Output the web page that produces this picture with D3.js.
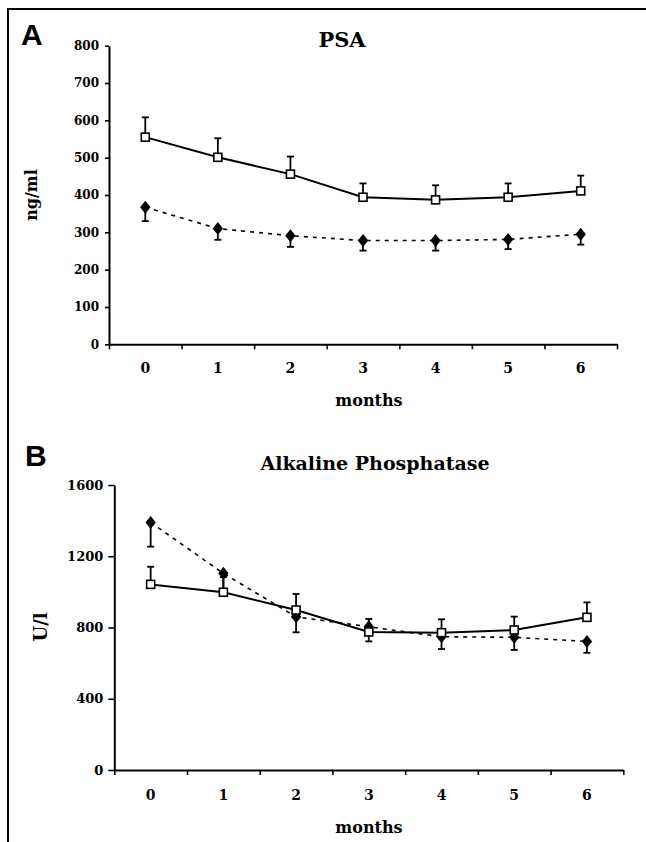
<!DOCTYPE html>
<html>
<head>
<meta charset="utf-8">
<script src="https://cdn.jsdelivr.net/npm/d3@7"></script>
<style>
  html, body { margin: 0; padding: 0; background: #fff; }
  svg { display: block; }
  text { font-family: "DejaVu Serif", serif; font-weight: bold; fill: #000; }
</style>
</head>
<body>
<svg id="chart" width="646" height="842"></svg>
<script>
// ---------- DATA ----------
const months = [0, 1, 2, 3, 4, 5, 6];

// Panel A: PSA (ng/ml)
const psaTicks = [0, 100, 200, 300, 400, 500, 600, 700, 800];
const psaSquare = [555, 501, 456, 394, 387, 394, 411];
const psaSquareErr = [53, 51, 47, 37, 39, 37, 41];
const psaDiamond = [367, 310, 291, 278, 278, 281, 295];
const psaDiamondErr = [37, 30, 30, 27, 27, 26, 28];

// Panel B: Alkaline Phosphatase (U/l)
const alpTicks = [0, 400, 800, 1200, 1600];
const alpSquare = [1042, 998, 898, 775, 771, 786, 857];
const alpSquareErr = [99, 85, 90, 73, 75, 75, 84];
const alpDiamond = [1390, 1104, 860, 804, 748, 745, 722];
const alpDiamondErr = [136, 94, 87, 82, 69, 71, 64];

const svg = d3.select("#chart");

// frame lines (top and left)
svg.append("line").attr("x1", 8).attr("y1", 9).attr("x2", 646).attr("y2", 9)
  .attr("stroke", "#000").attr("stroke-width", 2);
svg.append("line").attr("x1", 8).attr("y1", 8).attr("x2", 8).attr("y2", 842)
  .attr("stroke", "#000").attr("stroke-width", 2);

function panel(cfg) {
  const g = svg.append("g");
  const x = d3.scaleLinear().domain([-0.5, 6.5]).range([cfg.left, cfg.right]);
  const y = d3.scaleLinear().domain([0, cfg.max]).range([cfg.bottom, cfg.top]);

  // panel letter
  g.append("text").attr("x", cfg.letterX).attr("y", cfg.letterY)
    .style("font-family", "'Liberation Sans', Arial, sans-serif")
    .style("font-size", "30px").style("font-weight", "bold")
    .text(cfg.letter);

  // title
  g.append("text").attr("x", cfg.titleX).attr("y", cfg.titleY)
    .attr("text-anchor", "middle").style("font-size", cfg.titleSize + "px")
    .text(cfg.title);

  // y axis
  const yAxis = g.append("g").attr("transform", `translate(${cfg.left},0)`)
    .call(d3.axisLeft(y).tickValues(cfg.ticks).tickSize(cfg.tickLen)
      .tickPadding(cfg.tickPad).tickSizeOuter(0).tickFormat(d3.format("d")));
  yAxis.select(".domain").attr("stroke-width", 2);
  yAxis.selectAll(".tick line").attr("stroke-width", 1.6);
  yAxis.selectAll("text").style("font-size", cfg.yFont + "px")
    .style("font-family", "'DejaVu Serif', serif").style("font-weight", "bold");

  // x axis (ticks at band boundaries)
  const bounds = d3.range(-0.5, 7, 1);
  const xAxis = g.append("g").attr("transform", `translate(0,${cfg.bottom})`)
    .call(d3.axisBottom(x).tickValues(bounds).tickSize(5).tickSizeOuter(0)
      .tickFormat(""));
  xAxis.select(".domain").attr("stroke-width", 2);
  xAxis.selectAll(".tick line").attr("stroke-width", 1.6);

  // x tick labels at month centres
  g.selectAll("text.xl").data(months).join("text").attr("class", "xl")
    .attr("x", d => x(d)).attr("y", cfg.bottom + cfg.xLabOff)
    .attr("text-anchor", "middle").style("font-size", "14px")
    .text(d => d);

  // x label
  g.append("text").attr("x", cfg.xTitleX).attr("y", cfg.xTitleY)
    .attr("text-anchor", "middle").style("font-size", "16px").text("months");

  // y label
  g.append("text")
    .attr("transform", `translate(${cfg.yTitleX},${cfg.yTitleY}) rotate(-90)`)
    .attr("text-anchor", "middle").style("font-size", cfg.yTitleSize + "px")
    .text(cfg.yTitle);

  const capW = 3.5;
  // error bars: squares upward, diamonds downward
  function errBars(vals, errs, dir) {
    const eg = g.append("g").attr("stroke", "#000").attr("stroke-width", 1.8);
    vals.forEach((v, i) => {
      const end = v + dir * errs[i];
      eg.append("line").attr("x1", x(months[i])).attr("x2", x(months[i]))
        .attr("y1", y(v)).attr("y2", y(end));
      eg.append("line").attr("x1", x(months[i]) - capW).attr("x2", x(months[i]) + capW)
        .attr("y1", y(end)).attr("y2", y(end));
    });
  }
  errBars(cfg.sq, cfg.sqErr, 1);
  errBars(cfg.di, cfg.diErr, -1);

  const line = d3.line().x((d, i) => x(months[i])).y(d => y(d));
  g.append("path").datum(cfg.di).attr("d", line).attr("fill", "none")
    .attr("stroke", "#000").attr("stroke-width", 1.6).attr("stroke-dasharray", "4,5");
  g.append("path").datum(cfg.sq).attr("d", line).attr("fill", "none")
    .attr("stroke", "#000").attr("stroke-width", 2);

  // diamonds
  g.selectAll("path.di").data(cfg.di).join("path").attr("class", "di")
    .attr("d", "M0,-6.5L5.2,0L0,6.5L-5.2,0Z")
    .attr("transform", (d, i) => `translate(${x(months[i])},${y(d)})`)
    .attr("fill", "#000");
  // squares
  g.selectAll("rect.sq").data(cfg.sq).join("rect").attr("class", "sq")
    .attr("x", (d, i) => x(months[i]) - 4).attr("y", d => y(d) - 4)
    .attr("width", 8).attr("height", 8)
    .attr("fill", "#fff").attr("stroke", "#000").attr("stroke-width", 1.6);
}

panel({
  letter: "A", letterX: 21, letterY: 45,
  title: "PSA", titleX: 342, titleY: 47, titleSize: 21,
  left: 109, right: 617, top: 45.7, bottom: 344.3, max: 800,
  ticks: psaTicks, tickLen: 4, tickPad: 6, yFont: 12,
  xLabOff: 29, xTitleX: 369, xTitleY: 406,
  yTitle: "ng/ml", yTitleX: 37, yTitleY: 195, yTitleSize: 16,
  sq: psaSquare, sqErr: psaSquareErr, di: psaDiamond, diErr: psaDiamondErr
});

panel({
  letter: "B", letterX: 25, letterY: 466,
  title: "Alkaline Phosphatase", titleX: 375, titleY: 470, titleSize: 19,
  left: 114.3, right: 623.3, top: 485, bottom: 770, max: 1600,
  ticks: alpTicks, tickLen: 6, tickPad: 5, yFont: 13,
  xLabOff: 30, xTitleX: 369, xTitleY: 833,
  yTitle: "U/l", yTitleX: 47, yTitleY: 627, yTitleSize: 18,
  sq: alpSquare, sqErr: alpSquareErr, di: alpDiamond, diErr: alpDiamondErr
});
</script>
</body>
</html>
